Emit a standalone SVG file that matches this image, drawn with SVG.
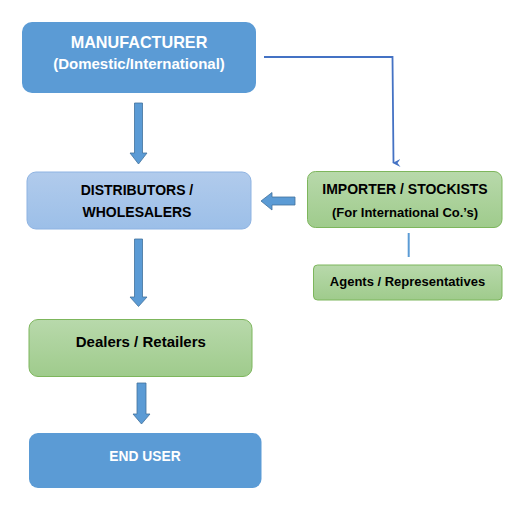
<svg xmlns="http://www.w3.org/2000/svg" width="513" height="509" viewBox="0 0 513 509">
<defs>
<linearGradient id="gBlue" x1="0" y1="0" x2="0" y2="1">
<stop offset="0" stop-color="#B1CBEC"/>
<stop offset="1" stop-color="#9CBFE8"/>
</linearGradient>
<linearGradient id="gGreen" x1="0" y1="0" x2="0" y2="1">
<stop offset="0" stop-color="#B8D9AB"/>
<stop offset="1" stop-color="#9FCB8C"/>
</linearGradient>
<marker id="ah" markerWidth="8" markerHeight="8" refX="4" refY="7" orient="auto" markerUnits="userSpaceOnUse" viewBox="0 0 8 8">
<path d="M0,0 L4,8 L8,0 L4,3 Z" fill="#4472C4"/>
</marker>
<style>
text{font-family:"Liberation Sans",Arial,sans-serif;font-weight:bold;text-anchor:middle}
.solid{fill:#5B9BD5}
.lb{fill:url(#gBlue);stroke:#8EB3E2;stroke-width:1}
.gr{fill:url(#gGreen);stroke:#7DB65C;stroke-width:1}
.w{fill:#FFFFFF}
.k{fill:#000000}
.arr{fill:#5B9BD5;stroke:#41719C;stroke-width:0.8}
</style>
</defs>
<rect width="513" height="509" fill="#FFFFFF"/>
<g id="connectors">
<polyline points="264,57 392.5,57 393.5,163" fill="none" stroke="#4472C4" stroke-width="1.8" marker-end="url(#ah)"/>
<line x1="408.7" y1="233" x2="408.7" y2="257" stroke="#5B9BD5" stroke-width="2"/>
<path class="arr" d="M134.5,103 H142.5 V153 H147 L138.5,164 L130,153 H134.5 Z"/>
<path class="arr" d="M134.5,239 H142.5 V297 H147 L138.5,306.5 L130,297 H134.5 Z"/>
<path class="arr" d="M137,383 H146 V414 H150 L141.5,424 L133,414 H137 Z"/>
<path class="arr" d="M295,197 V205 H272 V210 L261,201 L272,192.5 V197 Z"/>
</g>
<g id="manufacturer">
<rect class="solid" x="22" y="22" width="234" height="71" rx="10"/>
<text class="w" x="139" y="47.5" font-size="16.2">MANUFACTURER</text>
<text class="w" x="139" y="68.5" font-size="15">(Domestic/International)</text>
</g>
<g id="distributors">
<rect class="lb" x="27" y="172" width="224" height="57" rx="9"/>
<text class="k" x="137" y="195" font-size="14">DISTRIBUTORS /</text>
<text class="k" x="137" y="217" font-size="14">WHOLESALERS</text>
</g>
<g id="importer">
<rect class="gr" x="307.5" y="171.5" width="194.5" height="56" rx="8"/>
<text class="k" x="405" y="193.5" font-size="14">IMPORTER / STOCKISTS</text>
<text class="k" x="405" y="216.5" font-size="13">(For International Co.’s)</text>
</g>
<g id="agents">
<rect class="gr" x="313.5" y="265" width="188.5" height="35" rx="4"/>
<text class="k" x="407.5" y="285.5" font-size="13">Agents / Representatives</text>
</g>
<g id="dealers">
<rect class="gr" x="29" y="319.5" width="223" height="57" rx="9"/>
<text class="k" x="140.8" y="347" font-size="15">Dealers / Retailers</text>
</g>
<g id="enduser">
<rect class="solid" x="29" y="433" width="232.5" height="55" rx="9"/>
<text class="w" x="145" y="461" font-size="13.8">END USER</text>
</g>
</svg>
